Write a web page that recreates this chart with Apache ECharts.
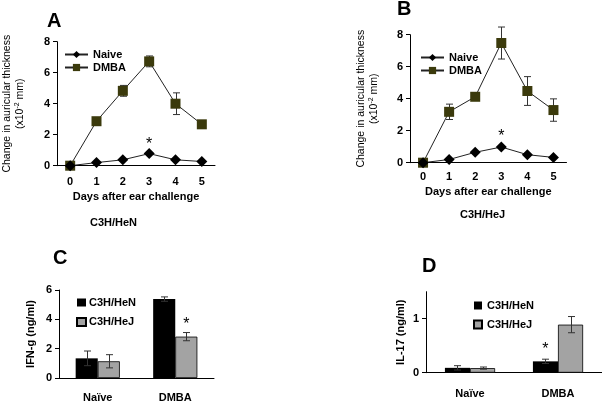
<!DOCTYPE html>
<html><head><meta charset="utf-8">
<script src="https://cdn.jsdelivr.net/npm/echarts@6/dist/echarts.min.js"></script>
<style>html,body{margin:0;padding:0;background:#fff}#c{width:602px;height:403px}</style>
</head><body><div id="c"></div>
<script>
// ---- data ----
var days = ['0','1','2','3','4','5'];
var naiveA = [0, 0.2, 0.38, 0.78, 0.38, 0.27];
var dmbaA = [0, 2.87, 4.83, 6.73, 4.0, 2.67];
var dmbaAErr = [0, 0.08, 0.35, 0.35, 0.7, 0.05];
var naiveB = [0, 0.2, 0.65, 0.98, 0.5, 0.33];
var dmbaB = [0, 3.18, 4.12, 7.48, 4.48, 3.29];
var dmbaBErr = [0, 0.48, 0.12, 1.0, 0.9, 0.7];
var groups = ['Naïve', 'DMBA'];
var ifnHeN = [1.34, 5.38];
var ifnHeNErr = [0.5, 0.15];
var ifnHeJ = [1.14, 2.82];
var ifnHeJErr = [0.45, 0.28];
var il17HeN = [0.09, 0.21];
var il17HeNErr = [0.04, 0.04];
var il17HeJ = [0.085, 0.89];
var il17HeJErr = [0.02, 0.15];

var FONT = 'Liberation Sans, Arial, sans-serif';
var OLIVE = '#3b3a0c';
var GRAY = '#a3a3a3';
var BW = 0.285;

function errData(vals, errs){ return vals.map(function(v,i){ return [i, v, errs[i]]; }); }
function errSeries(xi, yi, vals, errs, sign, bwFrac){
  return {
    type: 'custom', xAxisIndex: xi, yAxisIndex: yi, z: 1, silent: true,
    data: errData(vals, errs),
    renderItem: function(params, api){
      var i = api.value(0), v = api.value(1), e = api.value(2);
      if (!e) return null;
      var off = 0;
      if (bwFrac) off = sign * api.size([1, 0])[0] * bwFrac / 2;
      var t = api.coord([i, v + e]), b = api.coord([i, v - e]);
      var x = Math.round(t[0] + off) + 0.5, cw = 3.5;
      var st = {stroke: '#333', lineWidth: 1};
      return {type: 'group', children: [
        {type: 'line', shape: {x1: x, y1: t[1], x2: x, y2: b[1]}, style: st},
        {type: 'line', shape: {x1: x - cw, y1: t[1], x2: x + cw, y2: t[1]}, style: st},
        {type: 'line', shape: {x1: x - cw, y1: b[1], x2: x + cw, y2: b[1]}, style: st}
      ]};
    }
  };
}
var tickLbl = {color: '#000', fontFamily: FONT, fontWeight: 'bold', fontSize: 11};
var axLine = {lineStyle: {color: '#000', width: 1}};
function catX(gi, data, margin, nameTxt, nameGap){
  return {type: 'category', gridIndex: gi, data: data, boundaryGap: true,
    axisLine: axLine, axisTick: {length: 4, lineStyle: {color: '#000'}},
    axisLabel: Object.assign({margin: margin}, tickLbl),
    name: nameTxt || '', nameLocation: 'middle', nameGap: nameGap || 0,
    nameTextStyle: {color: '#000', fontFamily: FONT, fontWeight: 'bold', fontSize: 11}};
}
function valY(gi, max, interval, nameTxt, nameGap, nameStyle, extra){
  var o = {type: 'value', gridIndex: gi, min: 0, max: max, interval: interval,
    splitLine: {show: false}, axisLine: Object.assign({show: true}, axLine),
    axisTick: {show: true, length: 4, lineStyle: {color: '#000'}},
    axisLabel: Object.assign({margin: 7}, tickLbl),
    name: nameTxt, nameLocation: 'middle', nameGap: nameGap, nameRotate: 90,
    nameTextStyle: nameStyle};
  return Object.assign(o, extra || {});
}
var thickName = {color: '#000', fontFamily: FONT, fontSize: 10.5, lineHeight: 13,
  rich: {sup: {fontFamily: FONT, fontSize: 7, color: '#000', verticalAlign: 'top', padding: [0,0,4,0]}}};
var thickTxt = 'Change in auricular thickness\n(x10{sup|-2} mm)';
var boldName = {color: '#000', fontFamily: FONT, fontWeight: 'bold', fontSize: 11};

function lineNaive(xi, yi, vals, off){
  return {type: 'line', name: 'Naive', xAxisIndex: xi, yAxisIndex: yi, data: vals, z: 3,
    symbol: 'diamond', symbolSize: 11, itemStyle: {color: '#000'},
    lineStyle: {color: '#222', width: 1},
    label: {show: true, position: 'inside', offset: [0, off], fontSize: 16, color: '#000', fontFamily: FONT,
      formatter: function(p){ return p.dataIndex === 3 ? '*' : ''; }}};
}
function lineDmba(xi, yi, vals){
  return {type: 'line', name: 'DMBA', xAxisIndex: xi, yAxisIndex: yi, data: vals, z: 2,
    symbol: 'rect', symbolSize: 10, itemStyle: {color: OLIVE},
    lineStyle: {color: '#222', width: 1}};
}
function barSeries(name, xi, yi, vals, color, starIdx, dist){
  return {type: 'bar', name: name, xAxisIndex: xi, yAxisIndex: yi, data: vals,
    barWidth: (BW * 100) + '%', barGap: '0%', z: 0,
    itemStyle: {color: color, borderColor: '#000', borderWidth: color === '#000' ? 0 : 0.8},
    label: {show: true, position: 'top', distance: dist, fontSize: 16, color: '#000', fontFamily: FONT,
      formatter: function(p){ return p.dataIndex === starIdx ? '*' : ''; }}};
}
var legTxt = {fontFamily: FONT, fontWeight: 'bold', fontSize: 11, color: '#000'};

var chart = echarts.init(document.getElementById('c'), null, {renderer: 'canvas'});
chart.setOption({
  animation: false,
  backgroundColor: '#fff',
  grid: [
    {left: 51, width: 164, top: 41.7, bottom: 237.3},
    {left: 410, right: 35.5, top: 34.7, bottom: 240.3},
    {left: 59, right: 388, top: 290, bottom: 23.7},
    {left: 426, right: 0, top: 291.7, bottom: 30.3}
  ],
  xAxis: [
    catX(0, days, 11, 'Days after ear challenge', 26),
    catX(1, days, 9, 'Days after ear challenge', 24),
    catX(2, groups, 14),
    catX(3, groups, 16)
  ],
  yAxis: [
    valY(0, 8, 2, thickTxt, 30, thickName),
    valY(1, 8, 2, thickTxt, 29, thickName),
    valY(2, 6, 2, 'IFN-g (ng/ml)', 23, boldName),
    valY(3, 1.5, 1, 'IL-17 (ng/ml)', 20, boldName, {axisLabel: Object.assign({margin: 7, showMaxLabel: false}, tickLbl)})
  ],
  legend: [
    {left: 59, top: 44, orient: 'vertical', itemWidth: 23, itemHeight: 9, itemGap: 2,
      data: [{name: 'Naive'}, {name: 'DMBA'}], textStyle: legTxt},
    {left: 415, top: 47, orient: 'vertical', itemWidth: 23, itemHeight: 9, itemGap: 2,
      data: [{name: 'Naive'}, {name: 'DMBA'}], textStyle: legTxt},
    {left: 71, top: 292, orient: 'vertical', itemWidth: 9, itemHeight: 8, itemGap: 8.5,
      data: [{name: 'C3H/HeN'}, {name: 'C3H/HeJ'}], icon: 'rect',
      textStyle: Object.assign({padding: [0,0,0,-2]}, legTxt)},
    {left: 468, top: 295, orient: 'vertical', itemWidth: 8, itemHeight: 8, itemGap: 8,
      data: [{name: 'C3H/HeN'}, {name: 'C3H/HeJ'}], icon: 'rect', textStyle: legTxt}
  ],
  graphic: [
    {type: 'text', left: 47, top: 11, style: {text: 'A', font: 'bold 20px ' + FONT, fill: '#000'}},
    {type: 'text', left: 397, top: -1, style: {text: 'B', font: 'bold 20px ' + FONT, fill: '#000'}},
    {type: 'text', left: 53, top: 248, style: {text: 'C', font: 'bold 20px ' + FONT, fill: '#000'}},
    {type: 'text', left: 422, top: 256, style: {text: 'D', font: 'bold 20px ' + FONT, fill: '#000'}},
    {type: 'text', left: 90, top: 217, style: {text: 'C3H/HeN', font: 'bold 11px ' + FONT, fill: '#000'}},
    {type: 'text', left: 460, top: 209, style: {text: 'C3H/HeJ', font: 'bold 11px ' + FONT, fill: '#000'}}
  ],
  series: [
    errSeries(0, 0, dmbaA, dmbaAErr, 0, 0),
    lineDmba(0, 0, dmbaA),
    lineNaive(0, 0, naiveA, -9),
    errSeries(1, 1, dmbaB, dmbaBErr, 0, 0),
    lineDmba(1, 1, dmbaB),
    lineNaive(1, 1, naiveB, -10),
    barSeries('C3H/HeN', 2, 2, ifnHeN, '#000', -1, 4),
    barSeries('C3H/HeJ', 2, 2, ifnHeJ, GRAY, 1, 4),
    errSeries(2, 2, ifnHeN, ifnHeNErr, -1, BW),
    errSeries(2, 2, ifnHeJ, ifnHeJErr, 1, BW),
    barSeries('C3H/HeN', 3, 3, il17HeN, '#000', 1, 4),
    barSeries('C3H/HeJ', 3, 3, il17HeJ, GRAY, -1, 4),
    errSeries(3, 3, il17HeN, il17HeNErr, -1, BW),
    errSeries(3, 3, il17HeJ, il17HeJErr, 1, BW)
  ]
});
</script></body></html>
